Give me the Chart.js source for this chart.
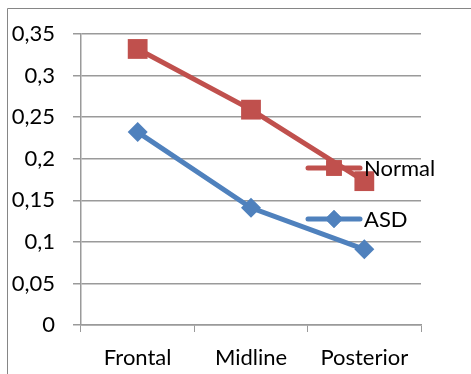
<!DOCTYPE html>
<html>
<head>
<meta charset="utf-8">
<script src="https://cdn.jsdelivr.net/npm/chart.js@4"></script>
<style>
  html, body { margin: 0; padding: 0; background: #fff; }
  #wrap { width: 471px; height: 374px; position: relative; }
</style>
</head>
<body>
<div id="wrap"><canvas id="chart"></canvas></div>
<script>
const categories = ["Frontal", "Midline", "Posterior"];
const normalValues = [0.332, 0.259, 0.173];
const asdValues = [0.232, 0.141, 0.091];
const yTickLabels = ["0", "0,05", "0,1", "0,15", "0,2", "0,25", "0,3", "0,35"];

const RED = "#c0504d";
const BLUE = "#4f81bd";
const FONT = "Lato, 'Liberation Sans', sans-serif";

// outer frame of the pasted chart (only top and left edges are visible)
const framePlugin = {
  id: "frame",
  beforeDraw(chart) {
    const ctx = chart.ctx;
    ctx.save();
    ctx.strokeStyle = "#868686";
    ctx.lineWidth = 1;
    ctx.beginPath();
    ctx.moveTo(7.5, chart.height);
    ctx.lineTo(7.5, 8.5);
    ctx.lineTo(chart.width, 8.5);
    ctx.stroke();
    ctx.restore();
  }
};

// legend sits inside the plot, right side, like the Excel one
const legendPlugin = {
  id: "insideLegend",
  afterDatasetsDraw(chart) {
    const ctx = chart.ctx;
    const x0 = 308, x1 = 360, mx = 334;
    const rows = [{ y: 168 }, { y: 219 }];
    chart.data.datasets.forEach((ds, i) => {
      const y = rows[i].y;
      ctx.save();
      ctx.strokeStyle = ds.borderColor;
      ctx.lineWidth = 5;
      ctx.lineCap = "round";
      ctx.beginPath();
      ctx.moveTo(x0, y);
      ctx.lineTo(x1, y);
      ctx.stroke();
      ctx.fillStyle = ds.borderColor;
      Chart.helpers.drawPoint(ctx, { pointStyle: ds.pointStyle, radius: ds.pointStyle === "rect" ? 11 : 9, borderWidth: 0 }, mx, y);
      ctx.fill();
      ctx.fillStyle = "#000";
      ctx.font = "22px " + FONT;
      ctx.textBaseline = "middle";
      ctx.fillText(ds.label, 364, y + 1);
      ctx.restore();
    });
  }
};

new Chart(document.getElementById("chart"), {
  type: "line",
  data: {
    labels: categories,
    datasets: [
      {
        label: "Normal",
        data: normalValues,
        borderColor: RED,
        backgroundColor: RED,
        borderWidth: 5,
        pointStyle: "rect",
        pointRadius: 14,
        pointHoverRadius: 14,
        pointBorderWidth: 0,
        tension: 0
      },
      {
        label: "ASD",
        data: asdValues,
        borderColor: BLUE,
        backgroundColor: BLUE,
        borderWidth: 5,
        pointStyle: "rectRot",
        pointRadius: 10,
        pointHoverRadius: 10,
        pointBorderWidth: 0,
        tension: 0
      }
    ]
  },
  options: {
    responsive: true,
    maintainAspectRatio: false,
    animation: false,
    events: [],
    layout: { padding: { left: 0, right: 50, top: 34, bottom: 0 } },
    plugins: {
      legend: { display: false },
      tooltip: { enabled: false }
    },
    scales: {
      x: {
        offset: true,
        grid: {
          display: true,
          drawOnChartArea: false,
          drawTicks: true,
          tickLength: 7,
          color: "#9a9a9a",
          offset: true
        },
        border: { display: true, color: "#9a9a9a", width: 1.5 },
        ticks: {
          color: "#000",
          font: { family: FONT, size: 22 },
          padding: 13
        },
        afterFit(scale) { scale.height = 49; }
      },
      y: {
        min: 0,
        max: 0.35,
        ticks: {
          stepSize: 0.05,
          color: "#000",
          font: { family: FONT, size: 22 },
          padding: 18,
          callback: (v, i) => yTickLabels[i]
        },
        grid: {
          color: "#9a9a9a",
          lineWidth: 1.5,
          tickLength: 8
        },
        border: { display: true, color: "#9a9a9a", width: 1.5 },
        afterFit(scale) { scale.width = 81; }
      }
    }
  },
  plugins: [framePlugin, legendPlugin]
});
</script>
</body>
</html>
